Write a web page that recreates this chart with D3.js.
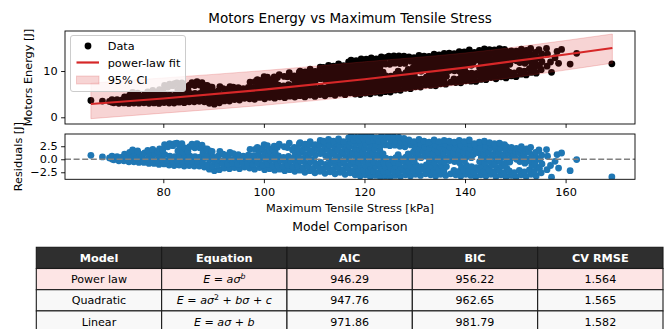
<!DOCTYPE html>
<html>
<head>
<meta charset="utf-8">
<script src="https://cdn.jsdelivr.net/npm/d3@7"></script>
<style>
  html, body { margin: 0; padding: 0; background: #fff; }
  svg text { font-family: "DejaVu Sans", sans-serif; fill: #000; }
</style>
</head>
<body>
<svg id="chart" width="666" height="329"></svg>
<script>
// ---- Measurements: maximum tensile stress [kPa] and residual energy [J] about the fit ----
const stressKPa = [
  65.6, 67.9, 69.3, 69.8,
  70.15, 69.8,
  71.15, 70.8,
  72.15, 71.8, 72.3,
  73.15, 72.8, 73.3,
  74.15, 73.8, 74.3, 73.9,
  75.15, 74.8, 75.3, 74.9,
  76.15, 75.8, 76.3,
  77.15, 76.8, 77.3, 76.9,
  78.15, 77.8, 78.3, 77.9,
  79.15, 78.8, 79.3, 78.9, 79.25,
  80.15, 79.8, 80.3, 79.9, 80.25,
  81.15, 80.8, 81.3, 80.9, 81.25,
  82.15, 81.8, 82.3, 81.9, 82.25,
  83.15, 82.8, 83.3, 82.9, 83.25, 82.7,
  84.15, 83.8, 84.3, 83.9, 84.25, 83.7,
  85.15, 84.8, 85.3, 84.9, 85.25,
  86.15, 85.8, 86.3, 86.25, 85.7,
  87.15, 86.8, 87.3, 87.25, 86.7,
  88.15, 87.8, 88.3, 87.9, 88.25, 87.7,
  89.15, 88.8, 89.3, 88.9, 89.25, 88.7,
  90.15, 89.8, 90.3, 89.9, 89.7,
  91.15, 90.8, 91.3, 90.9, 91.25,
  92.15, 91.8, 92.3, 91.9,
  93.15, 92.8, 93.3, 92.9, 93.25,
  94.15, 93.8, 94.3, 93.9,
  95.15, 94.8, 95.3, 94.9,
  96.15, 95.8, 96.3, 95.9,
  97.15, 96.8, 97.3, 96.9, 97.25,
  98.15, 97.8, 98.3, 97.9, 98.25,
  99.15, 98.8, 99.3, 98.9, 99.25, 98.7,
  100.15, 99.8, 100.3, 99.9, 100.25, 99.7, 100.05,
  101.15, 100.8, 101.3, 100.9, 101.25, 100.7,
  102.15, 101.8, 102.3, 101.9, 102.25, 101.7, 102.05,
  103.15, 102.8, 103.3, 102.9, 102.7, 103.05,
  104.15, 103.8, 104.3, 103.9, 104.05,
  105.15, 104.8, 105.3, 104.9, 104.7, 105.05,
  106.15, 105.8, 106.3, 105.9, 106.25, 105.7, 106.05,
  107.15, 106.8, 107.3, 106.9, 107.25, 106.7, 107.05, 107.2,
  108.15, 107.8, 108.3, 107.9, 108.25, 107.7, 108.05, 108.2,
  109.15, 108.8, 109.3, 108.9, 109.25, 108.7, 109.05, 109.2,
  110.15, 109.8, 110.3, 109.9, 110.25, 109.7, 110.05, 110.2,
  111.15, 110.8, 111.3, 111.25, 110.7, 111.05, 111.2,
  112.15, 111.8, 112.3, 112.25, 111.7, 112.05, 112.2, 111.85,
  113.15, 112.8, 113.3, 112.9, 113.25, 112.7, 113.05, 113.2, 112.85,
  114.15, 113.8, 114.3, 113.9, 114.25, 113.7, 114.05, 114.2, 113.85,
  115.15, 114.8, 115.3, 114.9, 115.25, 114.7, 115.05, 115.2, 114.85,
  116.15, 115.8, 116.3, 115.9, 116.25, 115.7, 116.05, 116.2, 115.85,
  117.15, 116.8, 117.3, 116.9, 117.25, 116.7, 117.05, 117.2, 116.85, 117.35,
  118.15, 117.8, 118.3, 117.9, 118.25, 117.7, 118.05, 118.2, 117.85, 118.35,
  119.15, 118.8, 119.3, 118.9, 119.25, 118.7, 119.05, 119.2, 118.85, 119.35,
  120.15, 119.8, 120.3, 119.9, 120.25, 119.7, 120.05, 120.2, 119.85, 120.35,
  121.15, 120.8, 121.3, 120.9, 121.25, 120.7, 121.05, 121.2, 120.85, 121.35,
  122.15, 121.8, 122.3, 121.9, 122.25, 121.7, 122.05, 122.2, 121.85, 122.35,
  123.15, 122.8, 123.3, 122.9, 123.25, 122.7, 123.05, 123.2, 122.85, 123.35,
  124.15, 123.8, 124.3, 123.9, 124.25, 123.7, 124.2, 123.85, 124.35,
  125.15, 124.8, 125.3, 124.9, 125.25, 125.05, 125.2, 124.85,
  126.15, 125.8, 126.3, 125.9, 126.25, 126.05, 126.2, 125.85,
  127.15, 126.8, 127.3, 126.9, 127.25, 126.7, 127.05, 127.2, 126.85,
  128.15, 127.8, 128.3, 127.9, 128.25, 128.05, 128.2, 127.85,
  129.15, 128.8, 129.3, 128.9, 129.25, 128.7, 129.2, 128.85,
  130.15, 129.8, 130.3, 129.9, 130.25, 129.7, 130.05, 130.2, 129.85,
  131.15, 130.8, 131.3, 131.25, 130.7, 131.05, 131.2, 130.85,
  132.15, 131.8, 132.3, 132.25, 131.7, 132.05, 132.2, 131.85,
  133.15, 132.8, 133.3, 132.9, 133.25, 132.7, 133.05, 133.2, 132.85,
  134.15, 133.8, 134.3, 133.9, 134.25, 133.7, 134.05, 134.2, 133.85,
  135.15, 134.8, 135.3, 134.9, 135.25, 134.7, 135.05, 135.2, 134.85,
  136.15, 135.8, 136.3, 135.9, 136.25, 135.7, 136.05, 136.2, 135.85,
  137.15, 136.9, 137.25, 136.7, 137.05, 137.2, 136.85,
  138.15, 137.8, 137.9, 138.25, 137.7, 138.05, 138.2, 137.85,
  139.15, 138.8, 139.3, 138.9, 139.25, 138.7, 139.05, 139.2, 138.85,
  140.15, 139.8, 140.3, 139.9, 140.25, 139.7, 140.05, 140.2, 139.85,
  141.15, 140.8, 141.3, 141.25, 140.7, 141.05, 141.2, 140.85,
  142.15, 141.8, 142.3, 141.7, 142.05, 142.2, 141.85,
  143.15, 142.8, 143.3, 142.9, 143.25, 142.7, 143.05, 143.2, 142.85,
  144.15, 143.8, 144.3, 143.9, 144.25, 143.7, 144.05, 144.2, 143.85,
  145.15, 144.8, 145.3, 144.9, 145.25, 144.7, 145.05, 145.2, 144.85,
  146.15, 145.8, 146.3, 145.9, 146.25, 145.7, 146.05, 146.2, 145.85,
  147.15, 146.8, 147.3, 146.9, 147.25, 146.7, 147.05, 147.2, 146.85,
  148.15, 147.8, 148.3, 147.9, 148.25, 147.7, 148.05, 148.2, 147.85,
  149.15, 148.8, 148.9, 149.25, 148.7, 149.05, 149.2,
  150.15, 149.8, 150.25, 149.7, 150.05, 150.2,
  151.15, 150.8, 150.9, 151.25, 150.7, 151.05, 151.2,
  152.15, 151.8, 151.9, 152.25, 151.7, 152.05, 152.2,
  153.15, 152.8, 153.3, 152.9, 153.25, 152.7, 153.05,
  154.15, 153.8, 154.3, 153.9, 154.25, 153.7, 154.05,
  155.15, 154.8, 155.3, 154.9, 155.25, 154.7,
  156.2, 156.4, 156.3, 157.2, 157.0, 157.9, 158.6, 158.3, 159.2, 160.9, 162.2, 169.2
];

const residualJ = [
  0.76, 0.44, 0.25, 0.05,
  -0.1, 0.6,
  -0.3, 0.5,
  -0.3, 0.4, 1.0,
  -0.5, 0.3, 1.3,
  -0.5, 0.35, 1.1, 1.8,
  -0.6, 0.2, 1.0, 1.6,
  -0.6, 0.3, 1.2,
  -0.8, 0.0, 0.85, 1.7,
  -0.8, 0.1, 1.0, 1.9,
  -1.0, -0.15, 0.7, 1.5, 2.0,
  -0.9, 0.0, 0.9, 1.8, 2.8,
  -1.1, -0.25, 0.6, 2.4, 3.0,
  -1.2, -0.35, 0.5, 2.6, 3.0,
  -1.1, -0.2, 0.7, 1.6, 2.4, 3.1,
  -1.3, -0.4, 0.5, 1.4, 2.2, 3.0,
  -1.2, -0.3, 0.6, 1.5, 2.4,
  -1.3, -0.4, 0.5, 2.2, 2.9,
  -1.3, -0.45, 0.4, 2.2, 3.0,
  -1.5, -0.6, 0.3, 1.2, 2.0, 2.7,
  -1.9, -1.0, -0.1, 0.8, 1.6, 2.0,
  -2.2, -1.3, -0.45, 0.4, 1.5,
  -2.0, -1.1, -0.25, 0.6, 1.5,
  -1.7, -0.85, 0.0, 1.0,
  -1.8, -0.9, -0.05, 0.8, 1.3,
  -1.6, -0.75, 0.1, 1.1,
  -1.8, -0.95, -0.1, 0.9,
  -1.5, -0.65, 0.2, 0.6,
  -1.7, -0.85, 0.0, 0.8, 1.9,
  -1.9, -1.0, -0.15, 0.7, 1.9,
  -1.6, -0.75, 0.1, 0.95, 1.7, 2.3,
  -2.0, -1.15, -0.3, 0.55, 1.4, 2.1, 2.8,
  -1.8, -0.95, -0.1, 0.75, 1.6, 2.6,
  -2.1, -1.25, -0.4, 0.45, 1.3, 2.0, 2.5,
  -1.9, -1.05, -0.2, 0.65, 2.3, 2.9,
  -2.2, -1.35, -0.5, 0.35, 2.4,
  -2.0, -1.15, -0.3, 0.55, 2.25, 3.1,
  -2.3, -1.45, -0.6, 0.25, 1.1, 1.8, 2.3,
  -2.1, -1.25, -0.4, 0.45, 1.3, 2.15, 3.0, 3.2,
  -2.5, -1.65, -0.8, 0.05, 0.9, 1.75, 2.6, 2.9,
  -2.2, -1.35, -0.5, 0.35, 1.2, 2.05, 2.9, 3.4,
  -2.6, -1.75, -0.9, -0.05, 0.8, 1.65, 2.5, 2.8,
  -2.3, -1.45, -0.6, 1.1, 1.95, 2.8, 3.6,
  -2.7, -1.85, -1.0, 0.7, 1.55, 2.4, 3.2, 3.5,
  -2.4, -1.55, -0.7, 0.15, 1.0, 1.85, 2.7, 3.5, 3.8,
  -2.8, -1.95, -1.1, -0.25, 0.6, 1.45, 2.3, 3.1, 3.5,
  -2.5, -1.65, -0.8, 0.05, 0.9, 1.75, 2.6, 3.4, 3.9,
  -2.9, -2.05, -1.2, -0.35, 0.5, 1.35, 2.2, 3.0, 3.4,
  -2.6, -1.75, -0.9, -0.05, 0.8, 1.65, 2.5, 3.35, 4.1, 4.4,
  -3.0, -2.15, -1.3, -0.45, 0.4, 1.25, 2.1, 2.95, 3.7, 4.2,
  -3.2, -2.35, -1.5, -0.65, 0.2, 1.05, 1.9, 2.75, 3.6, 4.45,
  -3.0, -2.15, -1.3, -0.45, 0.4, 1.25, 2.1, 2.95, 3.8, 4.3,
  -3.3, -2.45, -1.6, -0.75, 0.1, 0.95, 1.8, 2.65, 3.5, 4.45,
  -3.1, -2.25, -1.4, -0.55, 0.3, 1.15, 2.0, 2.85, 3.7, 4.1,
  -3.4, -2.55, -1.7, -0.85, 0.0, 0.85, 1.7, 2.55, 3.4, 4.4,
  -3.2, -2.35, -1.5, -0.65, 0.2, 1.05, 2.75, 3.6, 4.2,
  -3.4, -2.55, -1.7, -0.85, 0.0, 2.6, 3.5, 4.4,
  -3.1, -2.25, -1.4, -0.55, 0.3, 2.7, 3.5, 4.3,
  -3.3, -2.45, -1.6, -0.75, 0.1, 0.9, 2.5, 3.35, 4.2,
  -3.0, -2.15, -1.3, -0.45, 0.4, 2.4, 3.2, 4.0,
  -3.2, -2.35, -1.5, -0.65, 0.2, 1.05, 2.75, 3.7,
  -2.9, -2.05, -1.2, -0.35, 0.5, 1.35, 2.2, 3.05, 3.4,
  -3.1, -2.25, -1.4, 0.3, 1.15, 2.0, 2.85, 3.8,
  -2.8, -1.95, -1.1, 0.6, 1.45, 2.3, 3.15, 3.5,
  -3.0, -2.15, -1.3, -0.45, 0.4, 1.25, 2.1, 2.95, 3.3,
  -3.2, -2.35, -1.5, -0.65, 0.2, 1.05, 1.9, 2.75, 3.7,
  -2.9, -2.05, -1.2, -0.35, 0.5, 1.35, 2.2, 3.05, 3.4,
  -3.1, -2.25, -1.4, -0.55, 0.3, 1.15, 2.0, 2.85, 3.6,
  -2.8, -0.25, 0.6, 1.45, 2.3, 3.15, 3.5,
  -3.0, -2.15, -0.45, 0.4, 1.25, 2.1, 2.95, 3.3,
  -3.2, -2.35, -1.5, -0.65, 0.2, 1.05, 1.9, 2.75, 3.6,
  -2.9, -2.05, -1.2, -0.35, 0.5, 1.35, 2.2, 3.05, 3.4,
  -3.1, -2.25, -1.4, 0.3, 1.15, 2.0, 2.85, 3.7,
  -3.3, -2.45, -1.6, 0.95, 1.8, 2.65, 3.0,
  -3.0, -2.15, -1.3, -0.45, 0.4, 1.25, 2.1, 2.95, 3.3,
  -3.2, -2.35, -1.5, -0.65, 0.2, 1.05, 1.9, 2.75, 3.5,
  -2.9, -2.05, -1.2, -0.35, 0.5, 1.35, 2.2, 2.9, 3.2,
  -3.3, -2.45, -1.6, -0.75, 0.1, 0.95, 1.8, 2.65, 3.0,
  -3.0, -2.15, -1.3, -0.45, 0.4, 1.25, 2.1, 2.8, 3.1,
  -3.4, -2.55, -1.7, -0.85, 0.0, 0.85, 1.7, 2.4, 2.8,
  -3.1, -2.25, -0.55, 0.3, 1.15, 1.8, 2.3,
  -3.4, -2.55, 0.0, 0.85, 1.6, 2.1,
  -3.0, -2.15, -0.45, 0.4, 1.25, 1.9, 2.4,
  -3.3, -2.45, -0.75, 0.1, 0.95, 1.6, 2.0,
  -2.9, -2.05, -1.2, -0.35, 0.5, 1.35, 2.3,
  -3.2, -2.35, -1.5, -0.65, 0.2, 0.9, 1.3,
  -2.6, -1.75, -0.9, -0.05, 0.8, 1.8,
  1.85, 0.6, -2.0, -3.45, -1.2, -0.4, -1.7, 0.9, 1.2, -2.2, -0.07, -3.4
];

// ---- Power-law fit and its 95% confidence band, sampled along stress ----
const fitStress = [65.6, 80, 100, 120, 140, 160, 169.3];
const fitEnergy = [2.87, 4.06, 5.98, 8.22, 10.75, 13.57, 14.97];
const ciLower   = [-0.3, 0.9, 2.6, 4.7, 7.2, 10.2, 11.7];
const ciUpper   = [7.4, 8.5, 10.1, 12.0, 13.9, 16.6, 18.0];

// ---- Axis ranges and ticks ----
const stressDomain = [60.45, 173.8];
const energyDomain = [-1.45, 18.65];
const residualDomain = [-3.85, 4.85];
const stressTicks = [80, 100, 120, 140, 160];
const energyTicks = [0, 10];
const residualTicks = [-2.5, 0, 2.5];

// ---- Model comparison table ----
const tableHeader = ["Model", "Equation", "AIC", "BIC", "CV RMSE"];
const modelNames = ["Power law", "Quadratic", "Linear"];
// equation tokens: [text, style] where style is "i" italic, "n" upright, "s"/"si" superscript
const modelEquations = [
  [["E", "i"], [" = ", "n"], ["aσ", "i"], ["b", "si"]],
  [["E", "i"], [" = ", "n"], ["aσ", "i"], ["2", "s"], [" + ", "n"], ["bσ", "i"], [" + ", "n"], ["c", "i"]],
  [["E", "i"], [" = ", "n"], ["aσ", "i"], [" + ", "n"], ["b", "i"]]
];
const aicValues = [946.29, 947.76, 971.86];
const bicValues = [956.22, 962.65, 981.79];
const cvRmseValues = [1.564, 1.565, 1.582];

if (stressKPa.length !== residualJ.length) {
  throw new Error("stress/residual length mismatch: " + stressKPa.length + " vs " + residualJ.length);
}

// ---- Layout ----
const svg = d3.select("#chart");
const FONT = 11.3;
const plotL = 65, plotR = 635;
const energyPanel = { y0: 31, y1: 124 };
const residualPanel = { y0: 134, y1: 179.3 };
const RED = "#d62728";
const BLUE = "#1f77b4";

const x = d3.scaleLinear().domain(stressDomain).range([plotL, plotR]);
const yE = d3.scaleLinear().domain(energyDomain).range([energyPanel.y1, energyPanel.y0]);
const yR = d3.scaleLinear().domain(residualDomain).range([residualPanel.y1, residualPanel.y0]);

// energy of each sample = fitted energy at its stress + its residual
const fitAt = d3.scaleLinear().domain(fitStress).range(fitEnergy);
const samples = stressKPa.map((s, i) => ({ s, r: residualJ[i], e: fitAt(s) + residualJ[i] }));
const band = fitStress.map((s, i) => ({ s, fit: fitEnergy[i], lo: ciLower[i], hi: ciUpper[i] }));

const defs = svg.append("defs");
defs.append("clipPath").attr("id", "clip-energy")
  .append("rect").attr("x", plotL).attr("y", energyPanel.y0)
  .attr("width", plotR - plotL).attr("height", energyPanel.y1 - energyPanel.y0);
defs.append("clipPath").attr("id", "clip-res")
  .append("rect").attr("x", plotL).attr("y", residualPanel.y0)
  .attr("width", plotR - plotL).attr("height", residualPanel.y1 - residualPanel.y0);

// ---- Title ----
svg.append("text").attr("x", (plotL + plotR) / 2).attr("y", 23.3)
  .attr("text-anchor", "middle").style("font-size", "13.5px")
  .text("Motors Energy vs Maximum Tensile Stress");

// ---- Upper panel: data, fit and confidence band ----
const gEnergy = svg.append("g").attr("clip-path", "url(#clip-energy)");
gEnergy.append("g").selectAll("circle").data(samples).join("circle")
  .attr("cx", d => x(d.s)).attr("cy", d => yE(d.e)).attr("r", 3.4)
  .attr("fill", "#000");

gEnergy.append("path").datum(band)
  .attr("d", d3.area().x(d => x(d.s)).y0(d => yE(d.lo)).y1(d => yE(d.hi)).curve(d3.curveMonotoneX))
  .attr("fill", RED).attr("fill-opacity", 0.2)
  .attr("stroke", RED).attr("stroke-opacity", 0.2).attr("stroke-width", 1);

gEnergy.append("path").datum(band)
  .attr("d", d3.line().x(d => x(d.s)).y(d => yE(d.fit)).curve(d3.curveMonotoneX))
  .attr("fill", "none").attr("stroke", RED).attr("stroke-width", 2.2);

function styleAxis(g) {
  g.select(".domain").remove();
  g.selectAll(".tick line").attr("stroke", "#000").attr("stroke-width", 0.9);
  g.selectAll(".tick text").style("font-size", FONT + "px").style("font-family", "DejaVu Sans").attr("fill", "#000");
}

svg.append("g").attr("transform", `translate(${plotL},0)`)
  .call(d3.axisLeft(yE).tickValues(energyTicks).tickFormat(d3.format("d")).tickSize(3.9).tickPadding(3.4))
  .call(styleAxis);
svg.append("g").attr("transform", `translate(0,${energyPanel.y1})`)
  .call(d3.axisBottom(x).tickValues(stressTicks).tickFormat("").tickSize(3.9))
  .call(styleAxis);

svg.append("rect").attr("x", plotL).attr("y", energyPanel.y0)
  .attr("width", plotR - plotL).attr("height", energyPanel.y1 - energyPanel.y0)
  .attr("fill", "none").attr("stroke", "#000").attr("stroke-width", 0.9);

svg.append("text").attr("transform", `translate(32.3,${(energyPanel.y0 + energyPanel.y1) / 2}) rotate(-90)`)
  .attr("text-anchor", "middle").style("font-size", FONT + "px").text("Motors Energy [J]");

// ---- Legend ----
const leg = svg.append("g");
leg.append("rect").attr("x", 70.5).attr("y", 35.5).attr("width", 115).attr("height", 56).attr("rx", 2.5)
  .attr("fill", "#fff").attr("fill-opacity", 0.8).attr("stroke", "#cccccc").attr("stroke-width", 1);
leg.append("circle").attr("cx", 88).attr("cy", 46).attr("r", 3.4).attr("fill", "#000");
leg.append("text").attr("x", 107.7).attr("y", 50).style("font-size", FONT + "px").text("Data");
leg.append("line").attr("x1", 76.5).attr("x2", 99).attr("y1", 62.5).attr("y2", 62.5)
  .attr("stroke", RED).attr("stroke-width", 2.2);
leg.append("text").attr("x", 107.7).attr("y", 66.5).style("font-size", FONT + "px").text("power-law fit");
leg.append("rect").attr("x", 76.5).attr("y", 76).attr("width", 22.5).attr("height", 8)
  .attr("fill", RED).attr("fill-opacity", 0.2).attr("stroke", RED).attr("stroke-opacity", 0.2);
leg.append("text").attr("x", 107.7).attr("y", 84).style("font-size", FONT + "px").text("95% CI");

// ---- Lower panel: residuals ----
const gRes = svg.append("g").attr("clip-path", "url(#clip-res)");
gRes.append("g").selectAll("circle").data(samples).join("circle")
  .attr("cx", d => x(d.s)).attr("cy", d => yR(d.r)).attr("r", 3.4)
  .attr("fill", BLUE);
gRes.append("line").attr("x1", plotL).attr("x2", plotR).attr("y1", yR(0)).attr("y2", yR(0))
  .attr("stroke", "#808080").attr("stroke-width", 1.6).attr("stroke-dasharray", "6,2.6");

svg.append("g").attr("transform", `translate(${plotL},0)`)
  .call(d3.axisLeft(yR).tickValues(residualTicks).tickFormat(d3.format(".1f")).tickSize(3.9).tickPadding(3.4))
  .call(styleAxis);
svg.append("g").attr("transform", `translate(0,${residualPanel.y1})`)
  .call(d3.axisBottom(x).tickValues(stressTicks).tickFormat(d3.format("d")).tickSize(3.9).tickPadding(5.2))
  .call(styleAxis);

svg.append("rect").attr("x", plotL).attr("y", residualPanel.y0)
  .attr("width", plotR - plotL).attr("height", residualPanel.y1 - residualPanel.y0)
  .attr("fill", "none").attr("stroke", "#000").attr("stroke-width", 0.9);

svg.append("text").attr("transform", `translate(22,${(residualPanel.y0 + residualPanel.y1) / 2}) rotate(-90)`)
  .attr("text-anchor", "middle").style("font-size", FONT + "px").text("Residuals [J]");

svg.append("text").attr("x", (plotL + plotR) / 2).attr("y", 212.3)
  .attr("text-anchor", "middle").style("font-size", FONT + "px").text("Maximum Tensile Stress [kPa]");

// ---- Table ----
svg.append("text").attr("x", (plotL + plotR) / 2).attr("y", 231)
  .attr("text-anchor", "middle").style("font-size", "12.4px").text("Model Comparison");

const tblX0 = 36.3, tblX1 = 663, tblY0 = 247.3, rowH = 21.2;
const colW = (tblX1 - tblX0) / tableHeader.length;
const rowFills = ["#fde5e5", "#f8f8f8", "#f8f8f8"];

const rows = modelNames.map((m, i) => ({
  fill: rowFills[i],
  cells: [
    { text: m },
    { eq: modelEquations[i] },
    { text: aicValues[i].toFixed(2) },
    { text: bicValues[i].toFixed(2) },
    { text: cvRmseValues[i].toFixed(3) }
  ]
}));

const tbl = svg.append("g");
// header
tableHeader.forEach((h, j) => {
  tbl.append("rect").attr("x", tblX0 + j * colW).attr("y", tblY0).attr("width", colW).attr("height", rowH)
    .attr("fill", "#2f2f2f").attr("stroke", "#1a1a1a").attr("stroke-width", 1.1);
  tbl.append("text").attr("x", tblX0 + (j + 0.5) * colW).attr("y", tblY0 + rowH / 2 + 4.1)
    .attr("text-anchor", "middle").style("font-size", FONT + "px").style("font-weight", "bold")
    .style("fill", "#fff").text(h);
});
// body
const rowG = tbl.selectAll("g.row").data(rows).join("g").attr("class", "row")
  .attr("transform", (d, i) => `translate(0,${tblY0 + (i + 1) * rowH})`);
rowG.each(function (row) {
  const g = d3.select(this);
  row.cells.forEach((c, j) => {
    g.append("rect").attr("x", tblX0 + j * colW).attr("y", 0).attr("width", colW).attr("height", rowH)
      .attr("fill", row.fill).attr("stroke", "#1a1a1a").attr("stroke-width", 1.1);
    const t = g.append("text").attr("x", tblX0 + (j + 0.5) * colW).attr("y", rowH / 2 + 4.1)
      .attr("text-anchor", "middle").style("font-size", "11.1px");
    if (c.eq) {
      let raised = false;
      c.eq.forEach(([txt, st]) => {
        const sp = t.append("tspan").text(txt);
        const sup = st === "s" || st === "si";
        if (st === "i" || st === "si") sp.style("font-style", "italic");
        if (sup && !raised) { sp.attr("dy", -4.6).style("font-size", "7.8px"); raised = true; }
        else if (!sup && raised) { sp.attr("dy", 4.6); raised = false; }
      });
    } else {
      t.text(c.text);
    }
  });
});
</script>
</body>
</html>
